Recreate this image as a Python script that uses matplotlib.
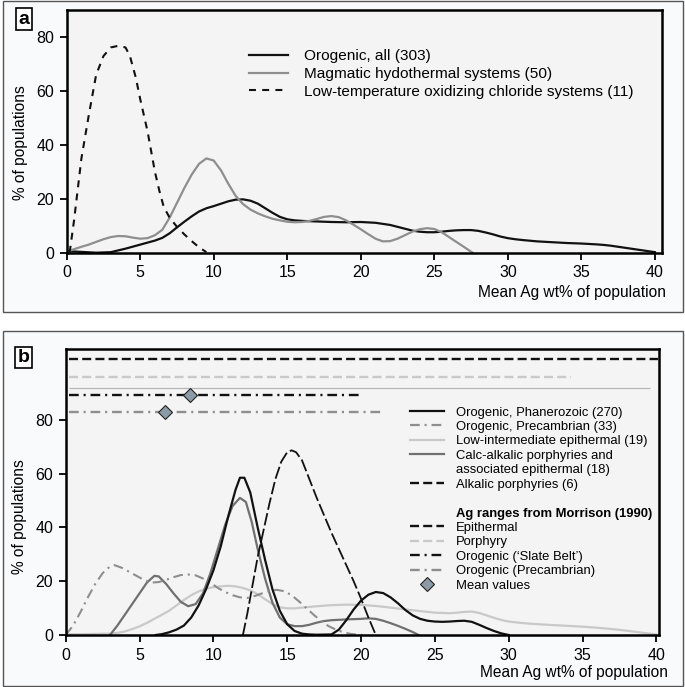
import matplotlib
matplotlib.use('Agg')
import matplotlib.pyplot as plt
from matplotlib.lines import Line2D
from matplotlib.patches import Rectangle
from matplotlib.legend_handler import HandlerLine2D

plt.rcParams['font.family'] = ['Liberation Sans', 'DejaVu Sans']
plt.rcParams['lines.scale_dashes'] = False

# ---- panel a data ----
oro_all_x = [0, 1, 2, 3, 4, 5, 6, 6.5, 7, 7.5, 8, 8.5, 9, 9.5, 10, 10.5, 11, 11.5, 12, 12.5, 13, 13.5,
             14, 14.5, 15, 15.5, 16, 17, 18, 19, 20, 21, 22, 22.5, 23, 23.5, 24, 24.5, 25, 25.5, 26,
             26.5, 27, 27.5, 28, 28.5, 29, 29.5, 30, 30.5, 31, 32, 33, 34, 35, 36, 36.5, 37, 37.5,
             38, 38.5, 39, 39.5, 40]
oro_all_y = [0.6, 0.3, 0, 0.2, 1.5, 3, 4.5, 5.5, 7.2, 9.4, 11.5, 13.5, 15.3, 16.5, 17.3, 18.2, 19.1, 19.7,
             19.8, 19.3, 18.2, 16.5, 14.8, 13.3, 12.4, 12, 11.8, 11.6, 11.4, 11.3, 11.4, 11.1, 10.3,
             9.6, 8.9, 8.2, 7.8, 7.6, 7.6, 7.8, 8.1, 8.3, 8.4, 8.4, 8.1, 7.5, 6.8, 6.0, 5.4, 5.0, 4.7,
             4.2, 3.9, 3.6, 3.4, 3.1, 2.9, 2.6, 2.2, 1.8, 1.4, 1.0, 0.6, 0.2]
magm_x = [0.1, 0.5, 1, 1.5, 2, 2.5, 3, 3.5, 4, 4.5, 5, 5.5, 6, 6.5, 7, 7.5, 8, 8.5, 9, 9.5, 10, 10.5,
          11, 11.5, 12, 12.5, 13, 13.5, 14, 14.5, 15, 15.5, 16, 16.5, 17, 17.5, 18, 18.5, 19, 19.5,
          20, 20.5, 21, 21.5, 22, 22.5, 23, 23.5, 24, 24.5, 25, 25.5, 26, 26.5, 27, 27.6]
magm_y = [0.5, 1.3, 2.2, 3, 4, 5, 5.8, 6.2, 6.1, 5.6, 5.2, 5.4, 6.5, 8.5, 13, 18.5, 24, 29, 33, 35,
          34.2, 30.5, 25.5, 21, 18, 16, 14.6, 13.5, 12.6, 12, 11.5, 11.3, 11.4, 11.8, 12.5, 13.3,
          13.6, 13.2, 12, 10.4, 8.7, 6.9, 5.2, 4.2, 4.3, 5.2, 6.5, 7.8, 8.7, 9.1, 8.8, 7.6, 5.8, 4,
          2.2, 0]
lowt_x = [0.2, 0.5, 1, 1.5, 2, 2.5, 3, 3.5, 4, 4.3, 4.7, 5, 5.5, 6, 6.3, 6.6, 7, 7.5, 8, 8.5, 9, 9.5]
lowt_y = [0, 12, 35, 51, 66, 73, 76.2, 76.8, 76.2, 73, 65, 57, 45, 30, 23, 17, 13, 9.6, 6.8, 4.3, 2, 0.2]

# ---- panel b data ----
phan_x = [6.1, 6.5, 7, 7.5, 8, 8.5, 9, 9.5, 10, 10.5, 11, 11.5, 11.8, 12.1, 12.5, 13, 13.5, 14, 14.5,
          15, 15.5, 16, 16.5, 17, 18, 18.5, 19, 19.5, 20, 20.5, 21, 21.5, 22, 22.5, 23, 23.5, 24,
          24.5, 25, 25.5, 26, 26.5, 27, 27.5, 28, 28.5, 29, 29.5, 30]
phan_y = [0, 0.3, 1, 2, 3.5, 6.5, 11, 17, 24, 33, 44, 54, 58.5, 58.5, 53, 40, 28, 17, 9, 4, 1.5, 0.5,
          0.2, 0.1, 0.2, 2, 5.5, 9.5, 12.8, 15, 16, 15.6, 14, 11.8, 9.3, 7.3, 6, 5.3, 5, 4.9, 5,
          5.2, 5.3, 4.9, 3.8, 2.6, 1.5, 0.6, 0]
prec_x = [0, 0.5, 1, 1.5, 2, 2.5, 3, 3.3, 3.8, 4.3, 4.8, 5.3, 5.8, 6.3, 6.8, 7.3, 7.8, 8.3, 8.8, 9.3,
          9.8, 10.3, 10.8, 11.3, 11.8, 12.3, 12.8, 13.3, 13.8, 14.3, 14.8, 15.3, 15.8, 16.3, 16.8,
          17.3, 17.8, 18.3, 18.8, 19.3, 19.8, 20.3]
prec_y = [0, 3.5, 8.5, 14, 19, 23, 25.5, 26, 25, 23.5, 22, 20.5, 19.5, 19.7, 20.5, 21.5, 22.3, 22.5,
          22.2, 21, 19.5, 17.5, 16, 14.8, 14, 13.8, 14.5, 15.5, 16.5, 16.8, 16.3, 14.8, 12.5, 10,
          7.5, 5.2, 3.3, 2, 1, 0.4, 0.1, 0]
lowint_x = [0, 1, 2, 3, 3.5, 4, 4.5, 5, 5.5, 6, 6.5, 7, 7.5, 8, 8.5, 9, 9.5, 10, 10.5, 11, 11.5, 12,
            12.5, 13, 13.5, 14, 14.5, 15, 15.5, 16, 17, 18, 19, 20, 21, 22, 23, 24, 25, 26, 26.5,
            27, 27.5, 28, 28.5, 29, 29.5, 30, 31, 32, 33, 34, 35, 36, 37, 38, 39, 40]
lowint_y = [0.3, 0.3, 0.4, 0.5, 0.8, 1.3, 2.2, 3.2, 4.5, 6, 7.5, 9, 11, 13, 14.8, 16.2, 17.2, 17.8,
            18.1, 18.3, 18.1, 17.5, 16.6, 15.2, 13.3, 11.5, 10.3, 9.9, 9.9, 10.2, 10.7, 11.1, 11.3,
            11.2, 10.8, 10.2, 9.5, 8.9, 8.3, 8.1, 8.3, 8.6, 8.7, 8.2, 7.3, 6.4, 5.6, 5, 4.4, 4,
            3.7, 3.4, 3.1, 2.7, 2.2, 1.6, 0.9, 0.2]
calc_x = [3, 3.5, 4, 4.5, 5, 5.5, 6, 6.3, 6.8, 7.3, 7.8, 8.3, 8.8, 9.3, 9.8, 10.3, 10.8, 11.3, 11.8,
          12.2, 12.6, 13, 13.5, 14, 14.5, 15, 15.5, 16, 16.5, 17, 17.5, 18, 19, 20, 20.5, 21, 21.5,
          22, 22.5, 23, 23.5, 23.9]
calc_y = [0, 3.5, 7.5, 11.5, 15.5, 19.5, 22, 21.8, 19, 15.5, 12.3, 10.7, 11.5, 15.5, 23, 32, 41, 48,
          51, 49.5, 42, 32, 21, 12, 6.5, 4, 3.3, 3.3, 3.8, 4.6, 5.2, 5.5, 5.8, 6, 6.2, 6, 5.3, 4.4,
          3.4, 2.3, 1.1, 0]
alk_x = [12, 12.3, 12.6, 13, 13.4, 13.8, 14.2, 14.6, 15, 15.3, 15.6, 16, 16.5, 17, 17.5, 18, 18.5,
         19, 19.5, 20, 20.5, 21]
alk_y = [0, 8, 17, 29, 39, 49, 58, 64.5, 68, 68.7, 68, 65, 58, 51, 44.5, 38, 32, 26, 20, 13.5, 6.5, 0]

# Morrison (1990) ranges: start, end, level, mean
morr_lo = [0.25, 0.25, 0.25, 0.25]
morr_hi = [40.1, 34.2, 20.0, 21.4]
morr_lvl = [102.6, 96.1, 89.3, 83.1]
guide_lvl = 91.8
guide_hi = 39.6
mean_x = [8.4, 6.7]
mean_lvl = [89.3, 83.1]

W, H = 685, 687
BLACK = '#111111'
GREY = '#8e8e8e'
LIGHT = '#c9c9c9'
MID = '#707070'
DASH_A = (0, (5, 4.5))
DASH_ALK = (0, (9, 2.5))
DASH_EPI = (0, (6.5, 3))
DASHDOT = (0, (7, 3.5, 1.5, 3.5))


def rect(l, t, r, b):
    return [l / W, 1 - b / H, (r - l) / W, (b - t) / H]


class RightMarker(HandlerLine2D):
    def get_xdata(self, legend, xdescent, ydescent, width, height, fontsize):
        return [-xdescent, -xdescent + width], [-xdescent + width]


def style_axes(ax, xmax, ymax):
    ax.set_facecolor('#f4f4f4')
    ax.set_xlim(0, xmax)
    ax.set_ylim(0, ymax)
    ax.set_xticks(range(0, 41, 5))
    ax.set_yticks(range(0, 81, 20))
    for s in ax.spines.values():
        s.set_linewidth(1.8)
        s.set_color('black')
    ax.tick_params(direction='out', length=5, width=1.3, labelsize=11.5, pad=4, colors='black')
    ax.set_xlabel('Mean Ag wt% of population', fontsize=11.2, ha='right', va='center')
    ax.set_ylabel('% of populations', fontsize=11.2, va='center')


fig = plt.figure(figsize=(W / 100, H / 100), dpi=100)
fig.patch.set_facecolor('white')
for (l, t, r, b) in [(3, 1, 683, 312), (3, 331, 683, 686)]:
    fig.add_artist(Rectangle((l / W, 1 - b / H), (r - l) / W, (b - t) / H, transform=fig.transFigure,
                             facecolor='#f8fafb', edgecolor='#555555', lw=1.0, zorder=-10))

# ---------------- panel a ----------------
axa = fig.add_axes(rect(66.7, 10, 661.5, 252.7))
style_axes(axa, 40.45, 90.1)
axa.plot(oro_all_x, oro_all_y, color=BLACK, lw=1.6, label='Orogenic, all (303)')
axa.plot(magm_x, magm_y, color=GREY, lw=1.6, label='Magmatic hydothermal systems (50)')
axa.plot(lowt_x, lowt_y, color=BLACK, lw=1.5, linestyle=DASH_A,
         label='Low-temperature oxidizing chloride systems (11)')
axa.xaxis.set_label_coords(1.008, -0.165)
axa.yaxis.set_label_coords(-0.0785, 0.454)
axa.legend(loc='upper left', bbox_to_anchor=(249.3 / W, 1 - 49.2 / H), bbox_transform=fig.transFigure,
           frameon=False, fontsize=11.1, borderpad=0, borderaxespad=0, labelspacing=0.24,
           handlelength=2.5, handletextpad=1.08)
fig.text(24 / W, 1 - 19 / H, 'a', fontsize=14, fontweight='bold', ha='center', va='center',
         bbox=dict(boxstyle='square,pad=0.12', fc='white', ec='black', lw=1.2))

# ---------------- panel b ----------------
axb = fig.add_axes(rect(65.7, 349, 658.6, 635))
style_axes(axb, 40.15, 106.4)
axb.xaxis.set_label_coords(1.016, -0.13)
axb.yaxis.set_label_coords(-0.0771, 0.414)

axb.hlines(guide_lvl, morr_lo[0], guide_hi, color='#b5b5b5', lw=0.9)
axb.hlines(morr_lvl[0], morr_lo[0], morr_hi[0], color=BLACK, lw=1.7, linestyle=DASH_EPI)
axb.hlines(morr_lvl[1], morr_lo[1], morr_hi[1], color=LIGHT, lw=1.7, linestyle=DASH_EPI)
axb.hlines(morr_lvl[2], morr_lo[2], morr_hi[2], color=BLACK, lw=1.7, linestyle=DASHDOT)
axb.hlines(morr_lvl[3], morr_lo[3], morr_hi[3], color=GREY, lw=1.7, linestyle=DASHDOT)
axb.plot(mean_x, mean_lvl, linestyle='none', marker='D', ms=7.5, mfc='#8d9ba6', mec='#222222', mew=0.8,
         zorder=5)

axb.plot(lowint_x, lowint_y, color=LIGHT, lw=1.6)
axb.plot(calc_x, calc_y, color=MID, lw=1.6)
axb.plot(prec_x, prec_y, color=GREY, lw=1.5, linestyle=DASHDOT)
axb.plot(phan_x, phan_y, color=BLACK, lw=1.6)
axb.plot(alk_x, alk_y, color=BLACK, lw=1.3, linestyle=DASH_ALK)

blank = Line2D([], [], color='none')
diamond = Line2D([], [], linestyle='none', marker='D', ms=7.5, mfc='#8d9ba6', mec='#222222', mew=0.8)
handles = [
    Line2D([], [], color=BLACK, lw=1.6),
    Line2D([], [], color=GREY, lw=1.6, linestyle=DASHDOT),
    Line2D([], [], color=LIGHT, lw=1.6),
    Line2D([], [], color=MID, lw=1.6),
    blank,
    Line2D([], [], color=BLACK, lw=1.7, linestyle=DASH_EPI),
    blank,
    blank,
    Line2D([], [], color=BLACK, lw=1.7, linestyle=DASH_EPI),
    Line2D([], [], color=LIGHT, lw=1.7, linestyle=DASH_EPI),
    Line2D([], [], color=BLACK, lw=1.7, linestyle=DASHDOT),
    Line2D([], [], color=GREY, lw=1.7, linestyle=DASHDOT),
    diamond,
]
labels = ['Orogenic, Phanerozoic (270)', 'Orogenic, Precambrian (33)', 'Low-intermediate epithermal (19)',
          'Calc-alkalic porphyries and', 'associated epithermal (18)', 'Alkalic porphyries (6)', ' ',
          'Ag ranges from Morrison (1990)', 'Epithermal', 'Porphyry', 'Orogenic (\u2018Slate Belt\u2019)',
          'Orogenic (Precambrian)', 'Mean values']
leg = axb.legend(handles, labels, loc='upper left', bbox_to_anchor=(410 / W, 1 - 406.5 / H),
                 bbox_transform=fig.transFigure, frameon=False, fontsize=9.4, borderpad=0,
                 borderaxespad=0, labelspacing=0.175, handlelength=2.6, handletextpad=0.95,
                 handler_map={diamond: RightMarker(numpoints=1)})
leg.get_texts()[7].set_fontweight('bold')
fig.text(23.3 / W, 1 - 357.5 / H, 'b', fontsize=14, fontweight='bold', ha='center', va='center',
         bbox=dict(boxstyle='square,pad=0.12', fc='white', ec='black', lw=1.2))

fig.savefig('out.png', dpi=100)
